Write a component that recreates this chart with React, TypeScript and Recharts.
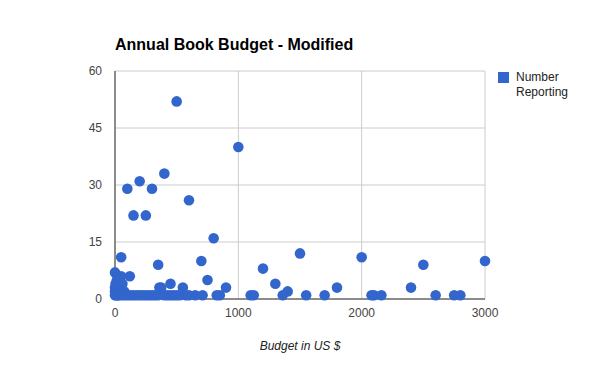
import React from 'react';
import { ScatterChart, Scatter, XAxis, YAxis, CartesianGrid } from 'recharts';

const budgets = [
  500, 1000, 400, 200, 100, 300, 600, 150, 250, 800, 1500, 50, 2000, 700, 3000, 350, 2500, 1200,
  0, 50, 120, 750, 450, 1300, 360, 375, 550, 900, 1800, 2400, 1400,
  0, 5, 10, 15, 20, 25, 40, 50, 60, 75, 10, 0, 0,
  25, 50, 75, 100, 125, 150, 175, 200, 225, 250, 275, 300, 325, 350, 400, 425, 450, 475, 500, 525,
  575, 600, 650, 710, 825, 850, 1100, 1125, 1360, 1550, 1700, 2080, 2100, 2160, 2600, 2750, 2800,
];
const reporting = [
  52, 40, 33, 31, 29, 29, 26, 22, 22, 16, 12, 11, 11, 10, 10, 9, 9, 8,
  7, 6, 6, 5, 4, 4, 3, 3, 3, 3, 3, 3, 2,
  2, 4, 3, 5, 2, 1, 3, 2, 4, 2, 1, 1, 3,
  1, 1, 1, 1, 1, 1, 1, 1, 1, 1, 1, 1, 1, 1, 1, 1, 1, 1, 1, 1,
  1, 1, 1, 1, 1, 1, 1, 1, 1, 1, 1, 1, 1, 1, 1, 1, 1,
];
const xTicks = [0, 1000, 2000, 3000];
const yTicks = [0, 15, 30, 45, 60];
const legendLines = ['Number', 'Reporting'];
const titleText = 'Annual Book Budget - Modified';
const xLabel = 'Budget in US $';

const data = budgets.map((b, i) => ({ budget: b, count: reporting[i] }));
const FONT = 'Arial, "Liberation Sans", sans-serif';

const Dot = (props: any) => <circle cx={props.cx} cy={props.cy} r={5.3} fill="#3366cc" />;

export default function App() {
  return (
    <div style={{ position: 'absolute', left: 0, top: 0, width: 600, height: 371, background: '#fff' }}>
      <ScatterChart width={600} height={371} margin={{ top: 71, right: 115, bottom: 0, left: 0 }}
        style={{ fontFamily: FONT }}>
        <CartesianGrid stroke="#cccccc" strokeWidth={1} />
        <XAxis type="number" dataKey="budget" domain={[0, 3000]} ticks={xTicks} height={72}
          tickLine={false} tickSize={7} tickMargin={2} stroke="#333" strokeWidth={1}
          tick={{ fill: '#444', fontSize: 12 }}
          label={{ value: xLabel, position: 'insideBottom', offset: 21, fill: '#222', fontSize: 12, fontStyle: 'italic' }} />
        <YAxis type="number" dataKey="count" domain={[0, 60]} ticks={yTicks} width={115}
          tickLine={false} tickSize={11} tickMargin={2} stroke="#333" strokeWidth={1}
          tick={{ fill: '#444', fontSize: 12 }} />
        <Scatter name={legendLines.join(' ')} data={data} fill="#3366cc" shape={Dot} isAnimationActive={false} />
      </ScatterChart>
      <svg width={600} height={371} style={{ position: 'absolute', left: 0, top: 0, pointerEvents: 'none' }}>
        <text x={115} y={50} fontFamily={FONT} fontWeight="bold" fontSize={16} fill="#000">
          {titleText}
        </text>
        <rect x={498} y={72} width={11} height={11} fill="#3366cc" />
        {legendLines.map((t, i) => (
          <text key={t} x={516} y={81 + i * 15} fontFamily={FONT} fontSize={12} fill="#222">{t}</text>
        ))}
      </svg>
    </div>
  );
}
